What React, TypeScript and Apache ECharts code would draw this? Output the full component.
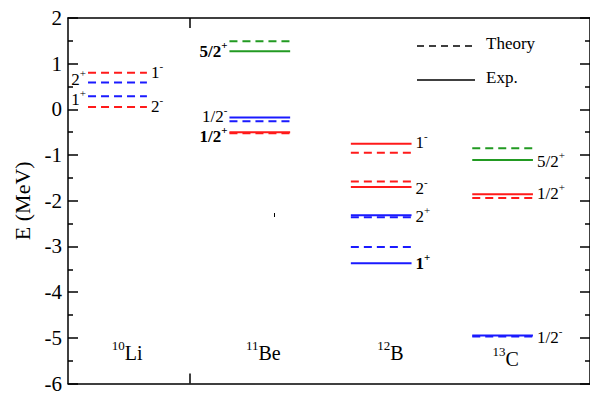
import React, { useEffect, useRef } from "react";
import * as echarts from "echarts";

// Nuclides (isotope mass number + element)
const nuclideMass = ["10", "11", "12", "13"];
const nuclideElement = ["Li", "Be", "B", "C"];

// Energy levels (MeV): which nuclide, energy, kind (theory / exp), colour
const levelNuclide = [0, 0, 0, 0, 1, 1, 1, 1, 1, 1, 2, 2, 2, 2, 2, 2, 2, 2, 3, 3, 3, 3, 3, 3];
const levelEnergy = [
  0.8, 0.59, 0.29, 0.05,
  1.49, 1.27, -0.18, -0.26, -0.52, -0.5,
  -0.75, -0.95, -1.58, -1.7, -2.32, -2.36, -3.01, -3.37,
  -0.85, -1.11, -1.86, -1.94, -4.95, -4.97,
];
const levelKind = [
  "T", "T", "T", "T",
  "T", "E", "E", "T", "T", "E",
  "E", "T", "T", "E", "E", "T", "T", "E",
  "T", "E", "E", "T", "E", "T",
];
const levelColor = [
  "red", "blue", "blue", "red",
  "green", "green", "blue", "blue", "red", "red",
  "red", "red", "red", "red", "blue", "blue", "blue", "blue",
  "green", "green", "red", "red", "blue", "blue",
];

// Spin-parity labels
const labelNuclide = [0, 0, 0, 0, 1, 1, 1, 2, 2, 2, 2, 3, 3, 3];
const labelEnergy = [0.8, 0.06, 0.65, 0.22, 1.26, -0.15, -0.59, -0.72, -1.74, -2.35, -3.37, -1.13, -1.85, -5.0];
const labelSpin = ["1", "2", "2", "1", "5/2", "1/2", "1/2", "1", "2", "2", "1", "5/2", "1/2", "1/2"];
const labelParity = ["-", "-", "+", "+", "+", "-", "+", "-", "-", "+", "+", "+", "+", "-"];
const labelSide = ["R", "R", "L", "L", "L", "L", "L", "R", "R", "R", "R", "R", "R", "R"];
const labelBold = [false, false, false, false, true, false, true, false, false, false, true, false, false, false];

// Y axis ticks
const yTicks = [-6, -5, -4, -3, -2, -1, 0, 1, 2];

const FONT = "Liberation Serif";
const COLORS: Record<string, string> = { red: "#ff1a1a", blue: "#1a1aff", green: "#229a22" };
const spanStart = [0.165, 1.33, 2.33, 3.33];
const spanEnd = [0.65, 1.83, 2.83, 3.83];
const nameX = [0.36, 1.466, 2.547, 3.497];
const nameE = [-5.33, -5.34, -5.34, -5.47];

export default function App() {
  const ref = useRef<HTMLDivElement>(null);
  useEffect(() => {
    if (!ref.current) return;
    const chart = echarts.init(ref.current, undefined, { renderer: "svg" });

    const levelData = levelEnergy.map((e, i) => [
      spanStart[levelNuclide[i]],
      spanEnd[levelNuclide[i]],
      e,
      i,
    ]);
    const labelData = labelEnergy.map((e, i) => [
      labelSide[i] === "L" ? spanStart[labelNuclide[i]] : spanEnd[labelNuclide[i]],
      e,
      i,
    ]);
    const nameData = nameX.map((x, i) => [x, nameE[i], i]);

    const axisLineStyle = { color: "#000", width: 1.5 };

    const option: any = {
      animation: false,
      grid: { left: 68, right: -3, top: 18, bottom: 8 },
      xAxis: [
        {
          type: "value",
          min: 0,
          max: 4.3,
          position: "bottom",
          axisLine: { show: true, onZero: false, lineStyle: axisLineStyle },
          axisTick: { show: true, inside: true, length: 10, customValues: [1], lineStyle: axisLineStyle },
          axisLabel: { show: false },
          splitLine: { show: false },
        },
        {
          type: "value",
          min: 0,
          max: 4.3,
          position: "top",
          axisLine: { show: true, onZero: false, lineStyle: axisLineStyle },
          axisTick: { show: true, inside: true, length: 10, customValues: [1], lineStyle: axisLineStyle },
          axisLabel: { show: false },
          splitLine: { show: false },
        },
      ],
      yAxis: [
        {
          type: "value",
          min: yTicks[0],
          max: yTicks[yTicks.length - 1],
          interval: 1,
          position: "left",
          name: "E (MeV)",
          nameLocation: "middle",
          nameGap: 34,
          nameTextStyle: { fontFamily: FONT, fontSize: 22, color: "#000" },
          axisLine: { show: true, onZero: false, lineStyle: axisLineStyle },
          axisTick: { show: true, inside: true, length: 10, lineStyle: axisLineStyle },
          minorTick: { show: true, splitNumber: 2, length: 5, lineStyle: axisLineStyle },
          axisLabel: { fontFamily: FONT, fontSize: 21, color: "#000", margin: 6 },
          splitLine: { show: false },
        },
        {
          type: "value",
          min: yTicks[0],
          max: yTicks[yTicks.length - 1],
          interval: 1,
          position: "right",
          axisLine: { show: true, onZero: false, lineStyle: axisLineStyle },
          axisTick: { show: true, inside: true, length: 10, lineStyle: axisLineStyle },
          minorTick: { show: true, splitNumber: 2, length: 5, lineStyle: axisLineStyle },
          axisLabel: { show: false },
          splitLine: { show: false },
        },
      ],
      series: [
        {
          type: "custom",
          coordinateSystem: "cartesian2d",
          encode: { x: [0, 1], y: 2 },
          data: levelData,
          renderItem: (params: any, api: any) => {
            const i = params.dataIndex;
            const p0 = api.coord([api.value(0), api.value(2)]);
            const p1 = api.coord([api.value(1), api.value(2)]);
            const dashed = levelKind[i] === "T";
            return {
              type: "line",
              shape: { x1: p0[0], y1: p0[1], x2: p1[0], y2: p1[1] },
              style: {
                stroke: COLORS[levelColor[i]],
                lineWidth: 2,
                lineDash: dashed ? [8, 5] : null,
              },
            };
          },
        },
        {
          type: "custom",
          coordinateSystem: "cartesian2d",
          encode: { x: 0, y: 1 },
          data: labelData,
          renderItem: (params: any, api: any) => {
            const i = params.dataIndex;
            const p = api.coord([api.value(0), api.value(1)]);
            const left = labelSide[i] === "L";
            const w = labelBold[i] ? "bold" : "normal";
            return {
              type: "text",
              x: left ? p[0] - 2 : p[0] + 4,
              y: p[1],
              style: {
                text: `{n|${labelSpin[i]}}{s|${labelParity[i]}}`,
                align: left ? "right" : "left",
                verticalAlign: "middle",
                fill: "#000",
                rich: {
                  n: { fontFamily: FONT, fontSize: 17, fontWeight: w, lineHeight: 24, fill: "#000" },
                  s: { fontFamily: FONT, fontSize: 11, fontWeight: w, lineHeight: 11, verticalAlign: "top", fill: "#000" },
                },
              },
            };
          },
        },
        {
          type: "custom",
          coordinateSystem: "cartesian2d",
          encode: { x: 0, y: 1 },
          data: nameData,
          renderItem: (params: any, api: any) => {
            const i = params.dataIndex;
            const p = api.coord([api.value(0), api.value(1)]);
            return {
              type: "text",
              x: p[0],
              y: p[1],
              style: {
                text: `{s|${nuclideMass[i]}}{n|${nuclideElement[i]}}`,
                align: "left",
                verticalAlign: "middle",
                fill: "#000",
                rich: {
                  n: { fontFamily: FONT, fontSize: 20, lineHeight: 28, fill: "#000" },
                  s: { fontFamily: FONT, fontSize: 13, lineHeight: 13, verticalAlign: "top", fill: "#000" },
                },
              },
            };
          },
        },
      ],
      graphic: [
        { type: "line", shape: { x1: 417, y1: 46, x2: 475, y2: 46 }, style: { stroke: "#000", lineWidth: 1.5, lineDash: [7, 5] } },
        { type: "text", x: 486, y: 43, style: { text: "Theory", fontFamily: FONT, fontSize: 17, fill: "#000", verticalAlign: "middle" } },
        { type: "line", shape: { x1: 417, y1: 80, x2: 475, y2: 80 }, style: { stroke: "#000", lineWidth: 1.5 } },
        { type: "text", x: 486, y: 77, style: { text: "Exp.", fontFamily: FONT, fontSize: 17, fill: "#000", verticalAlign: "middle" } },
        { type: "rect", shape: { x: 274, y: 213, width: 1, height: 4 }, style: { fill: "#000" } },
      ],
    };
    chart.setOption(option);
    return () => chart.dispose();
  }, []);
  return <div ref={ref} style={{ width: 590, height: 394, position: "absolute", left: 0, top: 0 }} />;
}
